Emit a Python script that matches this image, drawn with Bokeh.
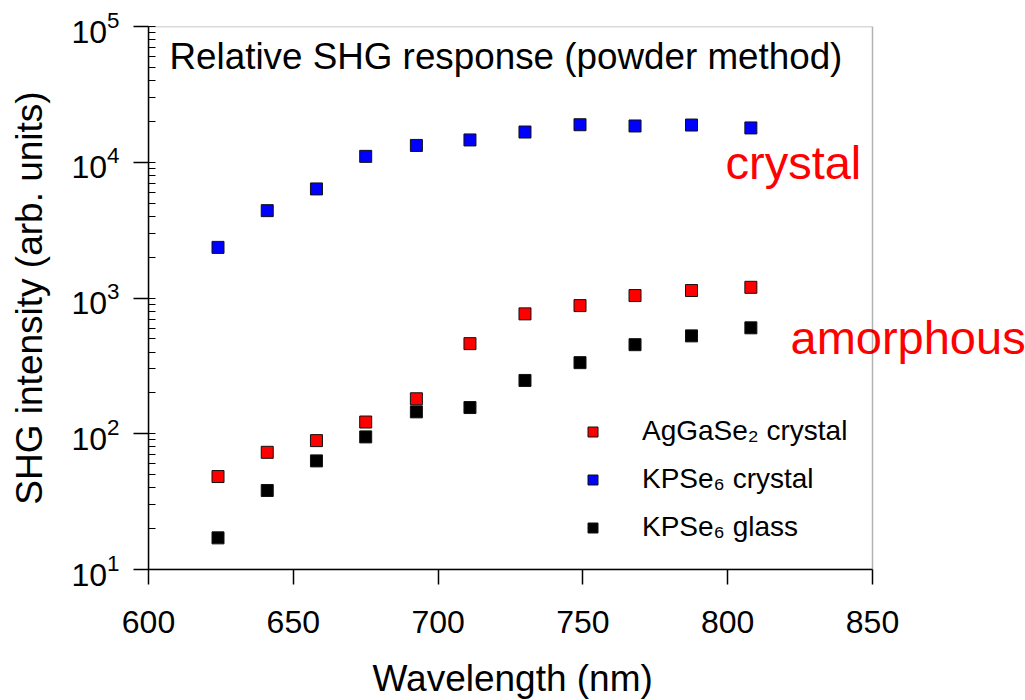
from bokeh.plotting import figure
from bokeh.models import Legend, LegendItem, Label, BoxAnnotation, FixedTicker, Title
from bokeh.embed import file_html
from bokeh.resources import INLINE

# ---- data ----
wavelength = [624, 641, 658, 675, 692.5, 711, 730, 749, 768, 787.5, 808]
aggase2_crystal = [48.4, 73, 89, 122, 181, 461, 764, 879, 1042, 1135, 1199]
kpse6_crystal = [2360, 4400, 6360, 11050, 13300, 14600, 16700, 18900, 18500, 18800, 17900]
kpse6_glass = [17.1, 38.2, 63.1, 94.8, 145, 156, 247, 334, 453, 526, 603]
x_ticks = [600, 650, 700, 750, 800, 850]
series_names = ["AgGaSe\u2082 crystal", "KPSe\u2086 crystal", "KPSe\u2086 glass"]
series_colors = ["#FF0000", "#0000FF", "#000000"]

FONT = "Liberation Sans"

X0, X1 = 600, 850
Y0, Y1 = 10, 1e5
BOX_W = 724  # pixel width of the boxed region (600..850)
FRAME_W = 877  # frame extends to the right edge so the 'amorphous' label is not clipped
x_end = X0 + (X1 - X0) * FRAME_W / BOX_W

p = figure(
    frame_width=FRAME_W, frame_height=543,
    min_border_left=148, min_border_right=0, min_border_top=26, min_border_bottom=131,
    x_range=(X0, x_end), y_range=(Y0, Y1), y_axis_type="log",
    output_backend="svg", toolbar_location=None, background_fill_color="white",
)
p.grid.visible = False
p.outline_line_color = None

rs = []
for ys, c in zip([aggase2_crystal, kpse6_crystal, kpse6_glass], series_colors):
    r = p.scatter(wavelength, ys, marker="square", size=12, fill_color=c,
                  line_color="#111111", line_width=1)
    rs.append(r)

# axes
xa = p.xaxis[0]
xa.ticker = FixedTicker(ticks=x_ticks)
xa.bounds = (X0, X1)
xa.minor_tick_line_color = None
xa.major_tick_out = 15
xa.major_tick_in = 0
ya = p.yaxis[0]
ya.axis_label = "SHG intensity (arb. units)"
ya.major_tick_out = 15
ya.major_tick_in = 0
ya.minor_tick_in = 7
ya.minor_tick_out = 0
for ax in (xa, ya):
    ax.axis_line_color = "black"
    ax.axis_line_width = 1.5
    ax.major_tick_line_color = "black"
    ax.major_tick_line_width = 1.5
    ax.minor_tick_line_width = 1.2
    ax.major_label_text_font = FONT
    ax.major_label_text_font_size = "32px"
    ax.major_label_text_color = "black"
    ax.axis_label_text_font = FONT
    ax.axis_label_text_font_size = "37px"
    ax.axis_label_text_font_style = "normal"
    ax.axis_label_text_color = "black"
ya.minor_tick_line_color = "black"
xa.major_label_standoff = 26
ya.major_label_standoff = 14
ya.axis_label_standoff = 18

# x-axis title, centred under the 600..850 box (the frame itself is wider)
p.add_layout(Title(text="Wavelength (nm)", align="left", offset=224, standoff=41,
                   text_font=FONT, text_font_size="37px", text_font_style="normal",
                   text_color="black"), "below")

# box around the data region
p.add_layout(BoxAnnotation(left=X0, right=X1, bottom=Y0, top=Y1, fill_alpha=0,
                           line_color="black", line_width=1.5, level="overlay"))

# legend
legend = Legend(
    items=[LegendItem(label=n, renderers=[r]) for n, r in zip(series_names, rs)],
    location=(432, 26), border_line_color=None, background_fill_alpha=0,
    glyph_width=25, glyph_height=25, label_height=25, label_standoff=37,
    spacing=16, padding=0, margin=0,
    label_text_font=FONT, label_text_font_size="28px", label_text_color="black",
)
p.add_layout(legend)

# annotations
p.add_layout(Label(x=21, y=513, x_units="screen", y_units="screen",
                   text="Relative SHG response (powder method)", text_font=FONT,
                   text_font_size="36.8px", text_color="black", text_baseline="alphabetic"))
p.add_layout(Label(x=577, y=407, x_units="screen", y_units="screen",
                   text="crystal", text_font=FONT, text_font_size="47px",
                   text_color="#FF0000", text_baseline="alphabetic"))
p.add_layout(Label(x=642, y=232, x_units="screen", y_units="screen",
                   text="amorphous", text_font=FONT, text_font_size="47px",
                   text_color="#FF0000", text_baseline="alphabetic"))

open("out.html", "w").write(file_html(p, INLINE))
